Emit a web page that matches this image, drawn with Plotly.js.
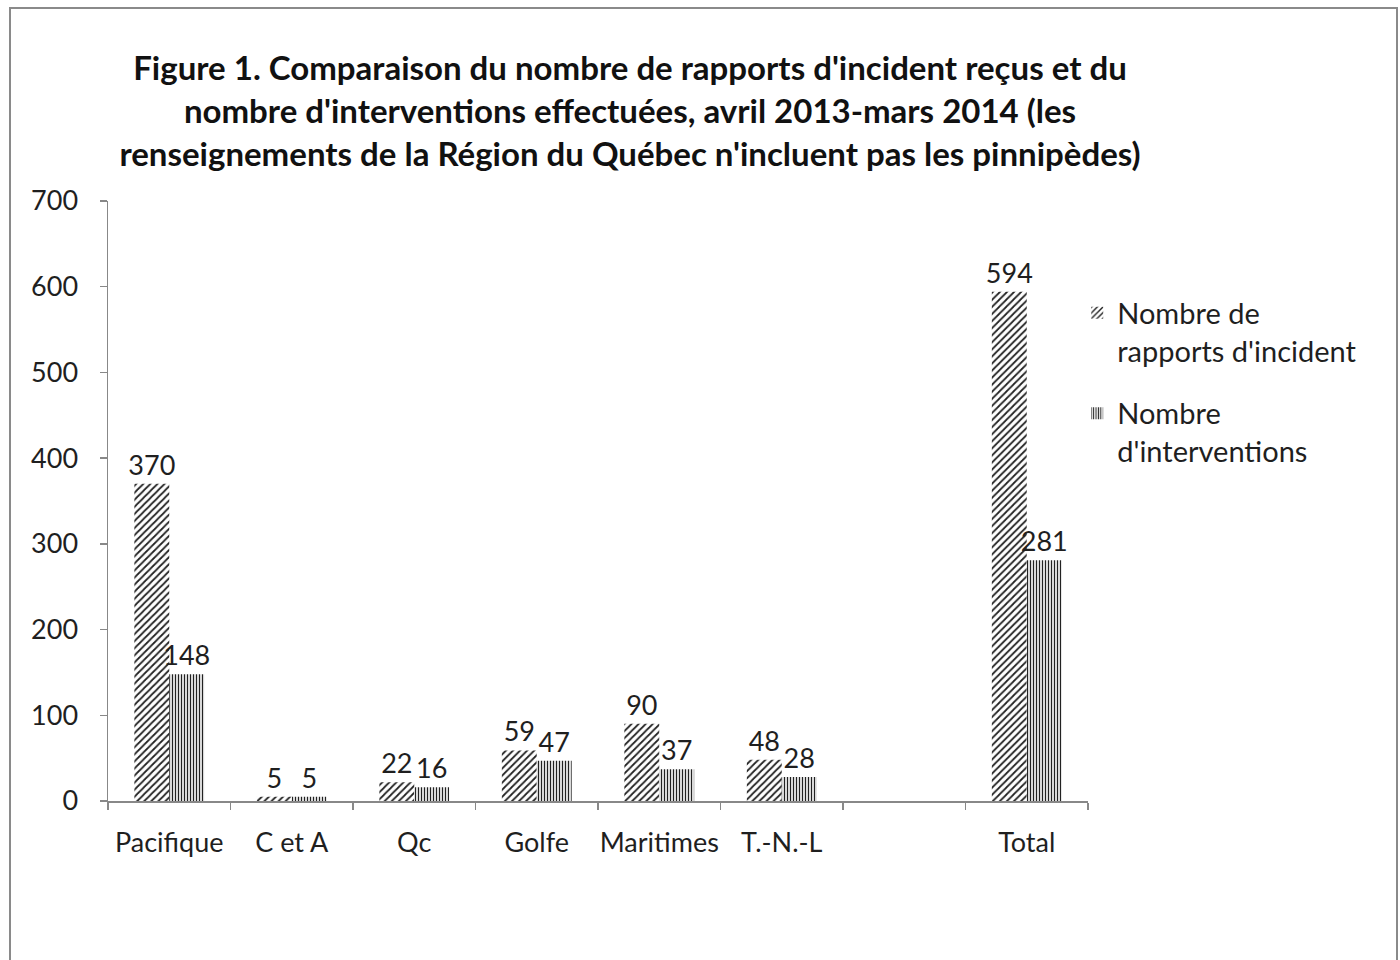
<!DOCTYPE html>
<html>
<head>
<meta charset="utf-8">
<script src="https://cdn.plot.ly/plotly-3.0.1.min.js"></script>
<style>html,body{margin:0;padding:0;background:#fff;}#chart{width:1400px;height:960px;}</style>
</head>
<body>
<div id="chart"></div>
<script>
const categories = ["Pacifique", "C et A", "Qc", "Golfe", "Maritimes", "T.-N.-L", " ", "Total"];
const rapports = [370, 5, 22, 59, 90, 48, null, 594];
const interventions = [148, 5, 16, 47, 37, 28, null, 281];
const seriesNames = ["Nombre de<br>rapports d'incident", "Nombre<br>d'interventions"];
const yTicks = [0, 100, 200, 300, 400, 500, 600, 700];
const titleText = "Figure 1. Comparaison du nombre de rapports d'incident reçus et du<br>nombre d'interventions effectuées, avril 2013-mars 2014 (les<br>renseignements de la Région du Québec n'incluent pas les pinnipèdes)";

const FONT = "Lato, 'Open Sans', sans-serif";
const TXT = "#1f1f1f";

function labels(arr){ return arr.map(v => v === null ? "" : String(v)); }

const traces = [
  {
    type: "bar", x: categories, y: rapports, name: seriesNames[0], legendgroup: "a",
    text: labels(rapports), textposition: "outside", cliponaxis: false, constraintext: "none",
    textfont: {family: FONT, size: 27, color: TXT},
    marker: {color: "white", line: {width: 0},
      pattern: {shape: "/", fgcolor: "#222", bgcolor: "white", size: 5, solidity: 0.35}},
    hoverinfo: "x+y"
  },
  {
    type: "bar", x: categories, y: interventions, name: seriesNames[1], legendgroup: "b",
    text: labels(interventions), textposition: "outside", cliponaxis: false, constraintext: "none",
    textfont: {family: FONT, size: 27, color: TXT},
    marker: {color: "white", line: {width: 0},
      pattern: {shape: "|", fgcolor: "#222", bgcolor: "white", size: 3, solidity: 0.45}},
    hoverinfo: "x+y"
  }
];

const layout = {
  width: 1400, height: 960,
  paper_bgcolor: "white", plot_bgcolor: "white",
  margin: {l: 108, r: 312, t: 201, b: 159},
  font: {family: FONT, color: TXT, size: 27},
  title: {
    text: titleText, x: 630/1400, xanchor: "center", y: 1 - 80/960, yanchor: "top",
    font: {family: FONT, size: 33, color: "#111", weight: "bold"}
  },
  barmode: "group", bargap: 0.43, bargroupgap: 0,
  showlegend: true,
  legend: {
    x: 0.989, xanchor: "left", y: 0.856, yanchor: "top",
    font: {family: FONT, size: 29, color: TXT},
    bgcolor: "rgba(0,0,0,0)", traceorder: "grouped", tracegroupgap: 22, itemwidth: 30, valign: "top"
  },
  xaxis: {
    type: "category", categoryorder: "array", categoryarray: categories,
    showline: true, linecolor: "#888", linewidth: 1.5,
    ticks: "outside", tickson: "boundaries", ticklen: 7, tickcolor: "#888", tickwidth: 1.5,
    showgrid: false, zeroline: false, tickangle: 0,
    ticklabelstandoff: 17,
    tickfont: {family: FONT, size: 27, color: TXT}
  },
  yaxis: {
    range: [0, 700], tickvals: yTicks, ticktext: yTicks.map(String),
    showline: true, linecolor: "#888", linewidth: 1.5,
    ticks: "outside", ticklen: 7, tickcolor: "#888", tickwidth: 1.5,
    showgrid: false, zeroline: false,
    ticklabelstandoff: 16,
    tickfont: {family: FONT, size: 27, color: TXT}
  },
  shapes: [{
    type: "rect", xref: "paper", yref: "paper",
    x0: (10 - 108) / 980, x1: (1397 - 108) / 980,
    y0: (801 - 975) / 600, y1: (801 - 8) / 600,
    line: {color: "#8a8a8a", width: 2}, fillcolor: "rgba(0,0,0,0)", layer: "below"
  }]
};

Plotly.newPlot("chart", traces, layout, {displayModeBar: false, staticPlot: true});
</script>
</body>
</html>
